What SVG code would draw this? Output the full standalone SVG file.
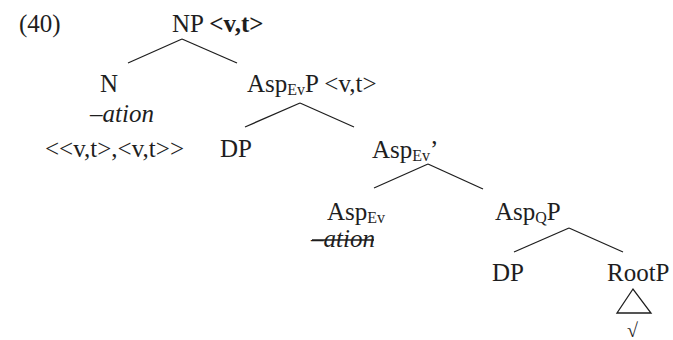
<svg xmlns="http://www.w3.org/2000/svg" width="673" height="340" viewBox="0 0 673 340">
<style>
text{font-family:"Liberation Serif","Times New Roman",serif;font-size:25px;fill:#1e1e1e}
.sub{font-size:16px}
.it{font-style:italic}
.b{font-weight:bold}
.root{font-size:20px}
.edge{stroke:#1e1e1e;stroke-width:1.3;fill:none}
</style>
<rect width="673" height="340" fill="#fff"/>
<text x="19" y="32">(40)</text>
<g id="NP"><text x="172" y="32">NP <tspan class="b">&lt;v,t&gt;</tspan></text></g>
<g id="N"><text x="100" y="92">N</text><text class="it" x="90" y="122">–ation</text><text x="45" y="157">&lt;&lt;v,t&gt;,&lt;v,t&gt;&gt;</text></g>
<g id="AspEvP"><text x="247" y="92">Asp<tspan class="sub" dy="3">Ev</tspan><tspan dy="-3">P &lt;v,t&gt;</tspan></text></g>
<g id="DP1"><text x="220" y="157">DP</text></g>
<g id="AspEvBar"><text x="372" y="158">Asp<tspan class="sub" dy="3">Ev</tspan><tspan dy="-3">’</tspan></text></g>
<g id="AspEv"><text x="327" y="220">Asp<tspan class="sub" dy="3">Ev</tspan></text><text class="it" x="311" y="247">–ation</text><line x1="312" y1="240" x2="374" y2="240" stroke="#1e1e1e" stroke-width="1.4"/></g>
<g id="AspQP"><text x="495" y="220">Asp<tspan class="sub" dy="3">Q</tspan><tspan dy="-3">P</tspan></text></g>
<g id="DP2"><text x="492" y="281">DP</text></g>
<g id="RootP"><text x="607" y="281">RootP</text><polygon class="edge" points="633,289 617,313 651,313"/><text class="root" x="627" y="337">√</text></g>
<g id="connectors">
<line class="edge" x1="182" y1="39" x2="128" y2="63"/>
<line class="edge" x1="182" y1="39" x2="237" y2="63"/>
<line class="edge" x1="300" y1="103" x2="245" y2="127"/>
<line class="edge" x1="300" y1="103" x2="354" y2="127"/>
<line class="edge" x1="428" y1="164" x2="374" y2="188"/>
<line class="edge" x1="428" y1="164" x2="483" y2="189"/>
<line class="edge" x1="569" y1="228" x2="514" y2="252"/>
<line class="edge" x1="569" y1="228" x2="623" y2="252"/>
</g>
</svg>
